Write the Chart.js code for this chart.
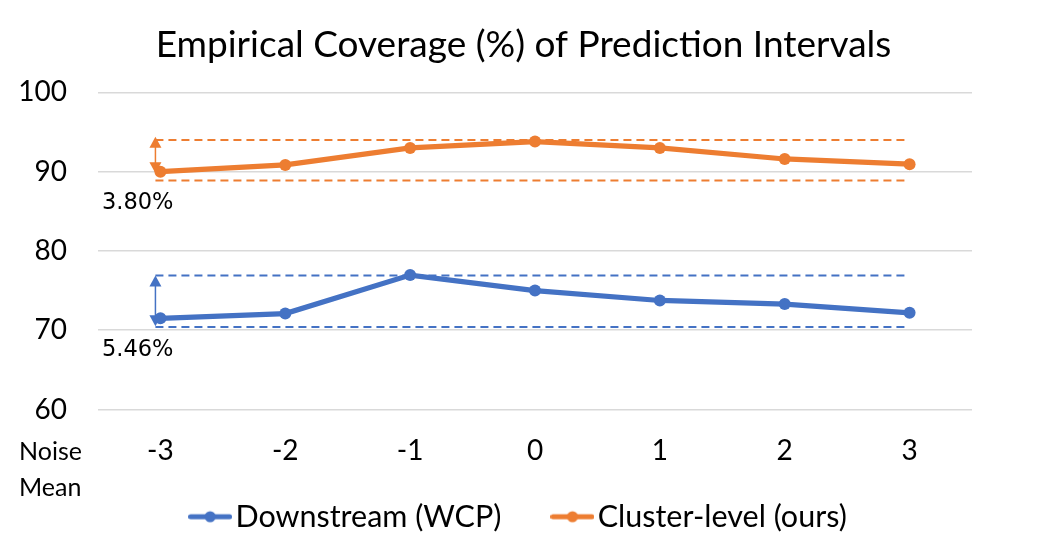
<!DOCTYPE html>
<html>
<head>
<meta charset="utf-8">
<script src="https://cdn.jsdelivr.net/npm/chart.js@4.4.1/dist/chart.umd.min.js"></script>
<style>
  html, body { margin: 0; padding: 0; background: #fff; }
  #wrap { width: 1041px; height: 555px; }
</style>
</head>
<body>
<div id="wrap"><canvas id="coverageChart"></canvas></div>
<script>
// data
const noiseMeans = ['-3', '-2', '-1', '0', '1', '2', '3'];
const downstreamWCP = [71.5, 72.1, 76.96, 75.0, 73.75, 73.3, 72.2];
const clusterLevel = [90.0, 90.85, 93.0, 93.8, 93.0, 91.6, 90.95];

// dashed reference levels and the span arrows, in y values
const blueLevels = [70.4, 76.9];
const orangeLevels = [88.9, 94.0];
const blueArrow = [70.5, 76.9];
const orangeArrow = [89.8, 94.4];
const spanLabels = ['5.46%', '3.80%'];

const BLUE = '#4472C4';
const ORANGE = '#ED7D31';
const FONT = 'Lato';

function legendMarker(color) {
    const c = document.createElement('canvas');
    c.width = 44;
    c.height = 14;
    const g = c.getContext('2d');
    g.strokeStyle = color;
    g.lineWidth = 5;
    g.lineCap = 'round';
    g.beginPath();
    g.moveTo(2.5, 7);
    g.lineTo(41.5, 7);
    g.stroke();
    g.fillStyle = color;
    g.beginPath();
    g.arc(22, 7, 5.5, 0, Math.PI * 2);
    g.fill();
    return c;
}

const markers = [legendMarker(BLUE), legendMarker(ORANGE)];

function drawArrowHead(ctx, x, y, dir) {
    // dir = -1 points up, 1 points down
    ctx.beginPath();
    ctx.moveTo(x, y);
    ctx.lineTo(x - 6, y - dir * 11);
    ctx.lineTo(x + 6, y - dir * 11);
    ctx.closePath();
    ctx.fill();
}

const spanPlugin = {
    id: 'spans',
    afterLayout(chart) {
        // let the tick labels spill past the narrow scale boxes
        chart.scales.y.left = 0;
        chart.scales.x.bottom = chart.scales.x.top + 70;
    },
    beforeDatasetsDraw(chart) {
        const ctx = chart.ctx;
        const x = chart.scales.x;
        const y = chart.scales.y;
        const x0 = x.getPixelForValue(0) - 5;
        const x1 = x.getPixelForValue(noiseMeans.length - 1) - 4;
        const groups = [
            { levels: blueLevels, arrow: blueArrow, color: BLUE, label: spanLabels[0] },
            { levels: orangeLevels, arrow: orangeArrow, color: ORANGE, label: spanLabels[1] }
        ];
        ctx.save();
        groups.forEach(g => {
            ctx.strokeStyle = g.color;
            ctx.fillStyle = g.color;
            ctx.lineWidth = 2;
            ctx.setLineDash([8, 5]);
            g.levels.forEach(v => {
                const py = y.getPixelForValue(v);
                ctx.beginPath();
                ctx.moveTo(x0, py);
                ctx.lineTo(x1, py);
                ctx.stroke();
            });
            ctx.setLineDash([]);
            const ax = x0;
            const top = y.getPixelForValue(g.arrow[1]);
            const bot = y.getPixelForValue(g.arrow[0]);
            ctx.lineWidth = 1.5;
            ctx.beginPath();
            ctx.moveTo(ax, top + 8);
            ctx.lineTo(ax, bot - 8);
            ctx.stroke();
            drawArrowHead(ctx, ax, top, -1);
            drawArrowHead(ctx, ax, bot, 1);

            ctx.fillStyle = '#000';
            ctx.font = '22.5px "DejaVu Sans"';
            ctx.textAlign = 'left';
            ctx.textBaseline = 'middle';
            ctx.fillText(g.label, 102, y.getPixelForValue(g.levels[0]) + 23);
        });
        ctx.restore();
    },
    afterDraw(chart) {
        const ctx = chart.ctx;
        ctx.save();
        ctx.fillStyle = '#000';
        ctx.font = '25px ' + FONT;
        ctx.textAlign = 'left';
        ctx.textBaseline = 'middle';
        ctx.fillText('Noise', 19, 452);
        ctx.fillText('Mean', 19, 488);
        ctx.restore();
    }
};

const ctx = document.getElementById('coverageChart').getContext('2d');

const coverageChart = new Chart(ctx, {
    type: 'line',
    data: {
        labels: noiseMeans,
        datasets: [{
            label: 'Downstream (WCP)',
            data: downstreamWCP,
            borderColor: BLUE,
            backgroundColor: BLUE,
            borderWidth: 5.25,
            pointRadius: 6,
            pointHoverRadius: 6,
            pointBorderWidth: 0,
            tension: 0
        }, {
            label: 'Cluster-level (ours)',
            data: clusterLevel,
            borderColor: ORANGE,
            backgroundColor: ORANGE,
            borderWidth: 5.25,
            pointRadius: 6,
            pointHoverRadius: 6,
            pointBorderWidth: 0,
            tension: 0
        }]
    },
    options: {
        responsive: true,
        maintainAspectRatio: false,
        animation: false,
        layout: { padding: { left: 75, right: 69, top: 0, bottom: 13 } },
        plugins: {
            title: {
                display: true,
                text: 'Empirical Coverage (%) of Prediction Intervals',
                color: '#000',
                font: { family: FONT, size: 37, weight: 'normal' },
                padding: { top: 23, bottom: 25 }
            },
            legend: {
                position: 'bottom',
                labels: {
                    color: '#000',
                    font: { family: FONT, size: 30.5 },
                    usePointStyle: true,
                    pointStyleWidth: 20,
                    padding: 61,
                    generateLabels(chart) {
                        return chart.data.datasets.map((ds, i) => ({
                            text: ds.label,
                            fillStyle: ds.borderColor,
                            strokeStyle: ds.borderColor,
                            pointStyle: markers[i],
                            datasetIndex: i,
                            hidden: false,
                            fontColor: '#000'
                        }));
                    }
                }
            },
            tooltip: { enabled: false }
        },
        scales: {
            x: {
                offset: true,
                grid: { display: false, drawTicks: false },
                border: { display: false },
                ticks: {
                    color: '#000',
                    font: { family: FONT, size: 28 },
                    padding: 25
                },
                afterFit(scale) { scale.height = 31; }
            },
            y: {
                min: 60,
                max: 100,
                ticks: {
                    stepSize: 10,
                    color: '#000',
                    font: { family: FONT, size: 28 },
                    padding: 31
                },
                grid: { color: '#D9D9D9', lineWidth: 1.5, drawTicks: false },
                border: { display: false },
                afterFit(scale) { scale.width = 23; }
            }
        }
    },
    plugins: [spanPlugin]
});
</script>
</body>
</html>
